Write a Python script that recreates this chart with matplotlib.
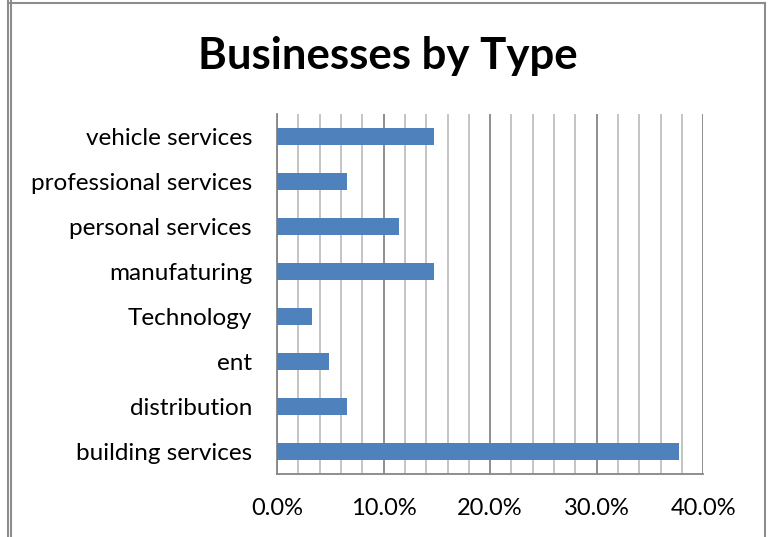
import matplotlib
matplotlib.use("Agg")
import matplotlib.pyplot as plt
from matplotlib.lines import Line2D
from matplotlib.ticker import MultipleLocator, PercentFormatter

# share of businesses by type (bottom to top)
categories = ["building services", "distribution", "ent", "Technology",
              "manufaturing", "personal services", "professional services",
              "vehicle services"]
shares = [0.377, 0.0656, 0.0492, 0.0328, 0.1475, 0.1148, 0.0656, 0.1475]

bar_color = "#4F81BD"

plt.rcParams['font.family'] = ['Lato', 'DejaVu Sans']

fig = plt.figure(figsize=(7.71, 5.37), dpi=100)
ax = fig.add_axes([0.3593, 0.1173, 0.5529, 0.6704])

y = range(len(categories))
ax.barh(y, shares, height=0.39, color=bar_color, zorder=3)

ax.set_xlim(0, 0.40)
ax.set_ylim(-0.5, len(categories) - 0.5)
ax.set_yticks(list(y))
ax.set_yticklabels(categories, fontsize=17.5)

ax.xaxis.set_major_locator(MultipleLocator(0.10))
ax.xaxis.set_minor_locator(MultipleLocator(0.02))
ax.xaxis.set_major_formatter(PercentFormatter(1.0, decimals=1))
ax.tick_params(axis='x', which='both', length=0, labelsize=17, pad=17)
ax.tick_params(axis='y', length=0, pad=18)

ax.grid(True, axis='x', which='minor', color='#BFBFBF', linewidth=1.3, zorder=1)
ax.grid(True, axis='x', which='major', color='#868686', linewidth=1.3, zorder=2)

ax.spines['top'].set_visible(False)
ax.spines['right'].set_visible(False)
for side in ['left', 'bottom']:
    ax.spines[side].set_color('#868686')
    ax.spines[side].set_linewidth(1.3)

fig.text(0.503, 0.895, "Businesses by Type", ha='center', va='center',
         fontsize=31.5, fontweight='bold')

# outer frame of the chart area
W, H = 771, 537
fig.add_artist(Line2D([8 / W, 765 / W], [1 - 2.5 / H, 1 - 2.5 / H], color='#8C8C8C', linewidth=1.5))
fig.add_artist(Line2D([765 / W, 765 / W], [0, 1 - 2.5 / H], color='#8C8C8C', linewidth=1.5))
fig.add_artist(Line2D([8 / W, 8 / W], [0, 1], color='#8C8C8C', linewidth=1.5))
fig.add_artist(Line2D([11 / W, 11 / W], [0, 1], color='#8C8C8C', linewidth=1.5))

fig.savefig("out.png", dpi=100)
